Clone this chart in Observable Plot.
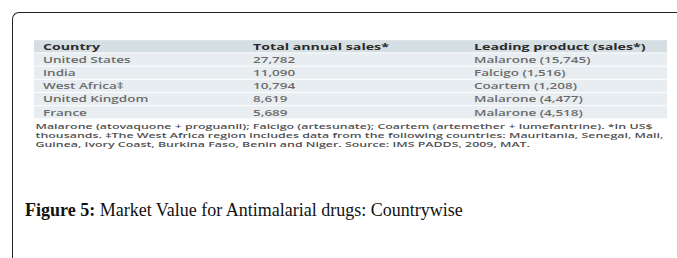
<!DOCTYPE html>
<html>
<head>
<meta charset="utf-8">
<script src="https://cdn.jsdelivr.net/npm/d3@7"></script>
<script src="https://cdn.jsdelivr.net/npm/@observablehq/plot@0.6"></script>
<style>
  html, body { margin: 0; padding: 0; background: #fff; }
  body { width: 677px; height: 258px; overflow: hidden; position: relative; }
  #frame { position: absolute; left: 12px; top: 12px; width: 720px; height: 320px;
           border-top: 1.5px solid #222; border-left: 1.5px solid #222; border-top-left-radius: 7px; }
  #chart { position: absolute; left: 33px; top: 39px; }
  #caption { position: absolute; left: 25px; top: 200px; font-family: "Liberation Serif", serif;
             font-size: 18px; line-height: 20px; color: #111; white-space: nowrap; }
  #caption b { font-weight: bold; }
</style>
</head>
<body>
<div id="frame"></div>
<div id="chart"></div>
<div id="caption"><b>Figure 5:</b> Market Value for Antimalarial drugs: Countrywise</div>
<script>
// ---- data ----
const columns = ["Country", "Total annual sales*", "Leading product (sales*)"];
const countries = ["United States", "India", "West Africa\u2021", "United Kingdom", "France"];
const totalSales = [27782, 11090, 10794, 8619, 5689];
const leadingProduct = ["Malarone", "Falcigo", "Coartem", "Malarone", "Malarone"];
const leadingSales = [15745, 1516, 1208, 4477, 4518];
const footnote = [
  "Malarone (atovaquone + proguanil); Falcigo (artesunate); Coartem (artemether + lumefantrine). *In US$",
  "thousands. \u2021The West Africa region includes data from the following countries: Mauritania, Senegal, Mali,",
  "Guinea, Ivory Coast, Burkina Faso, Benin and Niger. Source: IMS PADDS, 2009, MAT."
];

// ---- build table cells ----
const fmt = d3.format(",");
const rowKeys = [columns[0], ...countries];
const cells = [];
columns.forEach(c => cells.push({row: columns[0], col: c, value: c, header: true}));
countries.forEach((country, i) => {
  cells.push({row: country, col: columns[0], value: country, header: false});
  cells.push({row: country, col: columns[1], value: fmt(totalSales[i]), header: false});
  cells.push({row: country, col: columns[2], value: `${leadingProduct[i]} (${fmt(leadingSales[i])})`, header: false});
});

const squash = 0.6;           // the source image is vertically compressed
const W = 635, H = 192;
const colDx = [-97, -98, -88];
const font = "'Open Sans', sans-serif";

const textMarks = [];
columns.forEach((c, j) => {
  textMarks.push(Plot.text(cells.filter(d => d.col === c && d.header), {
    x: "col", y: "row", text: "value", textAnchor: "start", dx: colDx[j],
    fill: "#2b2b2b", fontWeight: 700, fontSize: 14.2
  }));
  textMarks.push(Plot.text(cells.filter(d => d.col === c && !d.header), {
    x: "col", y: "row", text: "value", textAnchor: "start", dx: colDx[j],
    fill: "#6b6b6b", fontWeight: 600, fontSize: 13.5
  }));
});

const chart = Plot.plot({
  width: W,
  height: H,
  marginTop: 0,
  marginLeft: 0,
  marginRight: 0,
  marginBottom: H - 136,
  style: {fontFamily: font, background: "transparent"},
  x: {domain: columns, padding: 0, axis: null},
  y: {domain: rowKeys, padding: 0, axis: null},
  marks: [
    Plot.cell(cells, {x: "col", y: "row", fill: d => d.header ? "#d5dee2" : "#e7edf0", insetBottom: 1.7}),
    ...textMarks,
    Plot.text([footnote.join("\n")], {
      frameAnchor: "bottom-left", textAnchor: "start", lineAnchor: "top",
      dx: 2, dy: 2, fontSize: 12.4, lineHeight: 1.22, fill: "#505050", fontWeight: 600
    })
  ]
});
chart.setAttribute("preserveAspectRatio", "none");
chart.setAttribute("height", H * squash);
chart.style.height = (H * squash) + "px";
chart.style.width = W + "px";
chart.style.maxWidth = "none";
document.getElementById("chart").appendChild(chart);
</script>
</body>
</html>
